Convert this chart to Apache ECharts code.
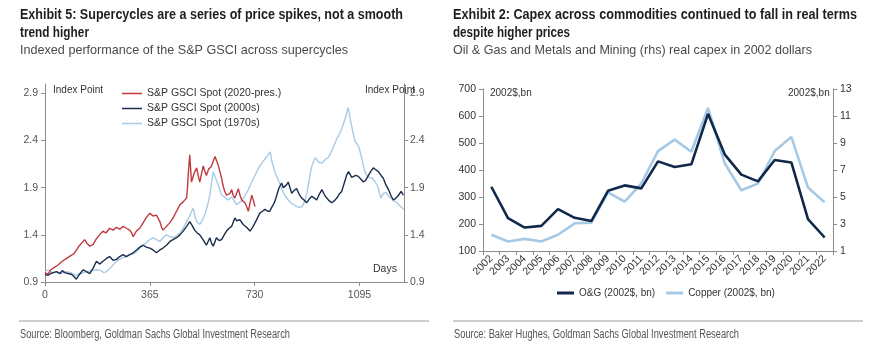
<!DOCTYPE html>
<html>
<head>
<meta charset="utf-8">
<script src="https://cdn.jsdelivr.net/npm/echarts@6/dist/echarts.min.js"></script>
<style>
  html, body { margin: 0; padding: 0; background: #ffffff; }
  #chart { width: 870px; height: 349px; }
</style>
</head>
<body>
<div id="chart"></div>
<script>
// ---- Exhibit 5: S&P GSCI spot, indexed, by days since start of each supercycle ----
const spot2020Days = [0,10,20,30,45,60,75,90,100,110,121,130,138,146,156,168,179,190,202,212,225,237,249,260,272,283,295,302,307,318,330,340,352,365,376,388,395,400,406,411,417,423,435,446,458,470,481,493,496,499,504,507,510,519,528,534,539,545,551,556,562,570,578,586,592,597,603,609,615,620,626,632,638,644,650,655,661,667,673,679,685,690,696,702,708,714,720,726,731];
const spot2020Vals = [1.00,0.98,1.03,1.05,1.08,1.12,1.15,1.18,1.20,1.24,1.29,1.32,1.35,1.31,1.28,1.30,1.36,1.40,1.44,1.42,1.47,1.45,1.48,1.46,1.49,1.47,1.45,1.42,1.38,1.44,1.47,1.52,1.58,1.63,1.60,1.61,1.57,1.54,1.48,1.45,1.47,1.49,1.53,1.58,1.65,1.72,1.75,1.79,1.90,2.05,2.25,2.10,1.96,2.05,2.11,2.02,1.96,2.05,2.13,2.08,2.03,2.10,2.12,2.18,2.23,2.21,2.14,2.07,2.00,1.92,1.86,1.82,1.80,1.84,1.88,1.82,1.79,1.84,1.89,1.82,1.77,1.76,1.74,1.70,1.65,1.74,1.82,1.76,1.70];

const spot2000sDays = [0,10,20,30,40,52,60,69,80,93,100,109,120,133,144,156,168,179,190,202,214,225,237,249,260,272,283,295,307,319,330,342,353,365,376,388,400,411,423,435,446,458,470,481,493,504,512,521,530,539,550,562,568,574,580,586,592,597,606,615,624,632,641,650,656,661,667,673,679,685,690,696,702,708,714,720,725,731,740,748,757,766,775,783,789,795,801,807,815,824,830,835,841,847,853,859,867,876,885,894,902,911,920,929,938,946,955,964,972,981,990,998,1007,1016,1024,1033,1042,1051,1057,1062,1068,1074,1082,1091,1100,1109,1117,1126,1134,1143,1152,1161,1170,1178,1187,1196,1204,1213,1222,1231,1240,1248];
const spot2000sVals = [0.98,0.97,0.99,1.00,1.01,0.99,1.02,1.00,0.99,0.98,0.96,0.93,0.98,1.03,1.01,0.99,1.05,1.12,1.09,1.12,1.15,1.17,1.13,1.14,1.17,1.19,1.17,1.19,1.21,1.24,1.27,1.29,1.27,1.26,1.24,1.21,1.24,1.26,1.29,1.33,1.35,1.37,1.40,1.44,1.49,1.54,1.50,1.45,1.42,1.40,1.35,1.29,1.33,1.37,1.31,1.28,1.33,1.37,1.34,1.35,1.40,1.44,1.47,1.49,1.54,1.58,1.55,1.53,1.56,1.54,1.51,1.49,1.48,1.47,1.44,1.46,1.49,1.51,1.58,1.63,1.65,1.67,1.65,1.65,1.69,1.72,1.76,1.82,1.90,1.95,1.90,1.88,1.93,1.96,1.90,1.84,1.87,1.89,1.83,1.79,1.77,1.74,1.78,1.81,1.79,1.77,1.83,1.88,1.83,1.79,1.76,1.74,1.76,1.79,1.83,1.86,1.95,2.04,2.07,2.05,2.01,2.00,2.03,2.02,1.99,1.96,1.98,2.03,2.07,2.11,2.09,2.07,2.03,2.00,1.93,1.88,1.82,1.77,1.79,1.82,1.86,1.82];

const spot1970sDays = [0,12,25,40,55,75,90,100,109,120,133,144,160,179,195,205,214,225,237,249,260,272,283,295,307,319,330,342,353,365,377,388,400,411,423,435,446,458,470,481,493,504,510,516,522,528,534,539,547,556,565,574,580,586,592,597,603,609,615,626,638,650,661,667,673,685,697,708,720,731,744,755,767,775,784,790,802,814,825,835,847,860,872,883,895,905,912,918,924,930,941,953,964,976,986,995,1005,1016,1027,1036,1044,1051,1056,1062,1068,1074,1080,1087,1093,1100,1106,1112,1118,1128,1140,1150,1158,1164,1170,1178,1188,1196,1205,1214,1222,1232,1242,1250];
const spot1970sVals = [1.01,1.03,1.00,1.01,0.99,1.01,1.00,0.98,0.97,0.99,1.00,1.01,1.02,1.03,1.02,1.00,1.01,1.04,1.08,1.12,1.14,1.16,1.17,1.19,1.20,1.22,1.26,1.29,1.32,1.35,1.37,1.35,1.33,1.37,1.40,1.38,1.37,1.39,1.42,1.47,1.54,1.60,1.65,1.68,1.60,1.54,1.52,1.51,1.55,1.61,1.70,1.82,1.96,2.07,2.02,2.00,1.93,1.88,1.82,1.80,1.77,1.80,1.75,1.72,1.72,1.76,1.82,1.88,1.96,2.03,2.11,2.16,2.21,2.24,2.28,2.18,2.05,1.97,1.88,1.82,1.77,1.73,1.71,1.69,1.70,1.76,1.85,1.95,2.06,2.14,2.22,2.17,2.16,2.20,2.22,2.27,2.34,2.42,2.48,2.55,2.62,2.70,2.75,2.64,2.55,2.46,2.39,2.36,2.33,2.25,2.17,2.09,2.04,2.01,2.00,1.96,1.92,1.85,1.79,1.84,1.85,1.81,1.79,1.76,1.75,1.72,1.69,1.67];

const dayTicks = [0, 365, 730, 1095];
const indexTicks = [0.9, 1.4, 1.9, 2.4, 2.9];

// ---- Exhibit 2: real capex in 2002 dollars ----
const capexYears = ['2002','2003','2004','2005','2006','2007','2008','2009','2010','2011','2012','2013','2014','2015','2016','2017','2018','2019','2020','2021','2022'];
const oilGasCapex = [338,222,187,193,255,223,211,323,343,332,432,411,421,608,458,383,358,437,428,218,150];
const copperCapex = [2.2,1.7,1.9,1.7,2.2,3.05,3.1,5.35,4.65,6.0,8.4,9.25,8.35,11.6,7.5,5.5,6.0,8.4,9.45,5.7,4.6];

const pairs = (xs, ys) => xs.map((x, i) => [x, ys[i]]);

const sans = '"Liberation Sans", Arial, sans-serif';
const axisGrey = '#8c8c8c';
const labelGrey = '#555555';

const RED = '#c0393f';
const NAVY = '#1a2e4c';
const LIGHT = '#a9cbe6';
const CAPEX_NAVY = '#10294a';
const CAPEX_LIGHT = '#a6c9e5';

// Header/footer text is set in a condensed face: Liberation Sans squeezed
// horizontally so each line spans its column width.
const measureCtx = document.createElement('canvas').getContext('2d');
function condensedText(str, x, y, font, fill, span) {
  measureCtx.font = font;
  const w = measureCtx.measureText(str).width;
  return {
    type: 'text', x: x, y: y, scaleX: span / w, silent: true,
    style: { text: str, font: font, fill: fill, verticalAlign: 'middle', align: 'left' }
  };
}
const titleFont = 'bold 15.5px ' + sans;
const subFont = '13.5px ' + sans;
const srcFont = '12.5px ' + sans;

const chart = echarts.init(document.getElementById('chart'), null, { renderer: 'canvas' });

chart.setOption({
  backgroundColor: '#ffffff',
  animation: false,
  legend: [
    {
      data: ['S&P GSCI Spot (2020-pres.)', 'S&P GSCI Spot (2000s)', 'S&P GSCI Spot (1970s)'],
      orient: 'vertical', left: 117, top: 82, itemGap: 2,
      icon: 'rect', itemWidth: 20, itemHeight: 1.5,
      textStyle: { fontFamily: sans, fontSize: 10.5, color: '#333', lineHeight: 13 }
    },
    {
      data: ['O&G (2002$, bn)', 'Copper (2002$, bn)'],
      orient: 'horizontal', left: 552, top: 283, itemGap: 11,
      icon: 'rect', itemWidth: 17, itemHeight: 3,
      textStyle: { fontFamily: sans, fontSize: 10, color: '#333' }
    }
  ],
  grid: [
    { left: 45, right: 466, top: 84, bottom: 67 },
    { left: 483, right: 37, top: 89, bottom: 98 }
  ],
  xAxis: [
    {
      gridIndex: 0, type: 'value', min: 0, max: 1250,
      axisLine: { lineStyle: { color: axisGrey, width: 1 } },
      axisTick: { show: true, length: 4, customValues: dayTicks, lineStyle: { color: axisGrey } },
      axisLabel: { customValues: dayTicks, formatter: v => String(v), color: labelGrey, fontFamily: sans, fontSize: 10.5, margin: 8 },
      splitLine: { show: false }
    },
    {
      gridIndex: 1, type: 'category', data: capexYears, boundaryGap: true,
      axisLine: { lineStyle: { color: axisGrey, width: 1 } },
      axisTick: { show: true, length: 4, alignWithLabel: false, lineStyle: { color: axisGrey } },
      axisLabel: { rotate: 45, interval: 0, color: '#333', fontFamily: sans, fontSize: 10.5, margin: 6 }
    }
  ],
  yAxis: [
    {
      gridIndex: 0, type: 'value', min: 0.9, max: 3.0, position: 'left',
      axisLine: { show: true, lineStyle: { color: axisGrey } },
      axisTick: { show: true, length: 4, customValues: indexTicks, lineStyle: { color: axisGrey } },
      axisLabel: { customValues: indexTicks, formatter: v => v.toFixed(1), color: labelGrey, fontFamily: sans, fontSize: 10.5, margin: 7 },
      splitLine: { show: false }
    },
    {
      gridIndex: 0, type: 'value', min: 0.9, max: 3.0, position: 'right',
      axisLine: { show: true, lineStyle: { color: axisGrey } },
      axisTick: { show: true, length: 4, customValues: indexTicks, lineStyle: { color: axisGrey } },
      axisLabel: { customValues: indexTicks, formatter: v => v.toFixed(1), color: labelGrey, fontFamily: sans, fontSize: 10.5, margin: 6 },
      splitLine: { show: false }
    },
    {
      gridIndex: 1, type: 'value', min: 100, max: 700, interval: 100, position: 'left',
      axisLine: { show: true, lineStyle: { color: axisGrey } },
      axisTick: { show: true, length: 4, lineStyle: { color: axisGrey } },
      axisLabel: { color: '#333', fontFamily: sans, fontSize: 10.5, margin: 7 },
      splitLine: { show: false }
    },
    {
      gridIndex: 1, type: 'value', min: 1, max: 13, interval: 2, position: 'right',
      axisLine: { show: true, lineStyle: { color: axisGrey } },
      axisTick: { show: true, length: 4, lineStyle: { color: axisGrey } },
      axisLabel: { color: '#333', fontFamily: sans, fontSize: 10.5, margin: 7 },
      splitLine: { show: false }
    }
  ],
  series: [
    {
      name: 'S&P GSCI Spot (1970s)', type: 'line', xAxisIndex: 0, yAxisIndex: 0,
      data: pairs(spot1970sDays, spot1970sVals), showSymbol: false, z: 2,
      lineStyle: { color: LIGHT, width: 1.4 }, itemStyle: { color: LIGHT }
    },
    {
      name: 'S&P GSCI Spot (2000s)', type: 'line', xAxisIndex: 0, yAxisIndex: 0,
      data: pairs(spot2000sDays, spot2000sVals), showSymbol: false, z: 3,
      lineStyle: { color: NAVY, width: 1.4 }, itemStyle: { color: NAVY }
    },
    {
      name: 'S&P GSCI Spot (2020-pres.)', type: 'line', xAxisIndex: 0, yAxisIndex: 0,
      data: pairs(spot2020Days, spot2020Vals), showSymbol: false, z: 4,
      lineStyle: { color: RED, width: 1.4 }, itemStyle: { color: RED }
    },
    {
      name: 'Copper (2002$, bn)', type: 'line', xAxisIndex: 1, yAxisIndex: 3,
      data: copperCapex, showSymbol: false, z: 2,
      lineStyle: { color: CAPEX_LIGHT, width: 2.6 }, itemStyle: { color: CAPEX_LIGHT }
    },
    {
      name: 'O&G (2002$, bn)', type: 'line', xAxisIndex: 1, yAxisIndex: 2,
      data: oilGasCapex, showSymbol: false, z: 3,
      lineStyle: { color: CAPEX_NAVY, width: 2.6 }, itemStyle: { color: CAPEX_NAVY }
    }
  ],
  graphic: [
    // headers
    condensedText('Exhibit 5: Supercycles are a series of price spikes, not a smooth', 20, 15, titleFont, '#1e1e1e', 383),
    condensedText('trend higher', 20, 32.5, titleFont, '#1e1e1e', 69),
    condensedText('Indexed performance of the S&P GSCI across supercycles', 20, 50, subFont, '#4a4a4a', 328),
    condensedText('Exhibit 2: Capex across commodities continued to fall in real terms', 453, 15, titleFont, '#1e1e1e', 404),
    condensedText('despite higher prices', 453, 32.5, titleFont, '#1e1e1e', 117),
    condensedText('Oil & Gas and Metals and Mining (rhs) real capex in 2002 dollars', 453, 50, subFont, '#4a4a4a', 359),
    // axis captions
    { type: 'text', left: 53, top: 85, style: { text: 'Index Point', fill: '#333', font: '10px ' + sans } },
    { type: 'text', right: 455, top: 85, style: { text: 'Index Point', fill: '#333', font: '10px ' + sans } },
    { type: 'text', left: 373, top: 264, style: { text: 'Days', fill: '#333', font: '10.5px ' + sans } },
    { type: 'text', left: 490, top: 88, style: { text: '2002$,bn', fill: '#333', font: '10px ' + sans } },
    { type: 'text', left: 788, top: 88, style: { text: '2002$,bn', fill: '#333', font: '10px ' + sans } },
    // footers
    { type: 'line', shape: { x1: 19, y1: 321, x2: 429, y2: 321 }, style: { stroke: '#9a9a9a', lineWidth: 1 } },
    { type: 'line', shape: { x1: 453, y1: 321, x2: 863, y2: 321 }, style: { stroke: '#9a9a9a', lineWidth: 1 } },
    condensedText('Source: Bloomberg, Goldman Sachs Global Investment Research', 20, 335, srcFont, '#555', 270),
    condensedText('Source: Baker Hughes, Goldman Sachs Global Investment Research', 454, 335, srcFont, '#555', 285)
  ]
});
</script>
</body>
</html>
